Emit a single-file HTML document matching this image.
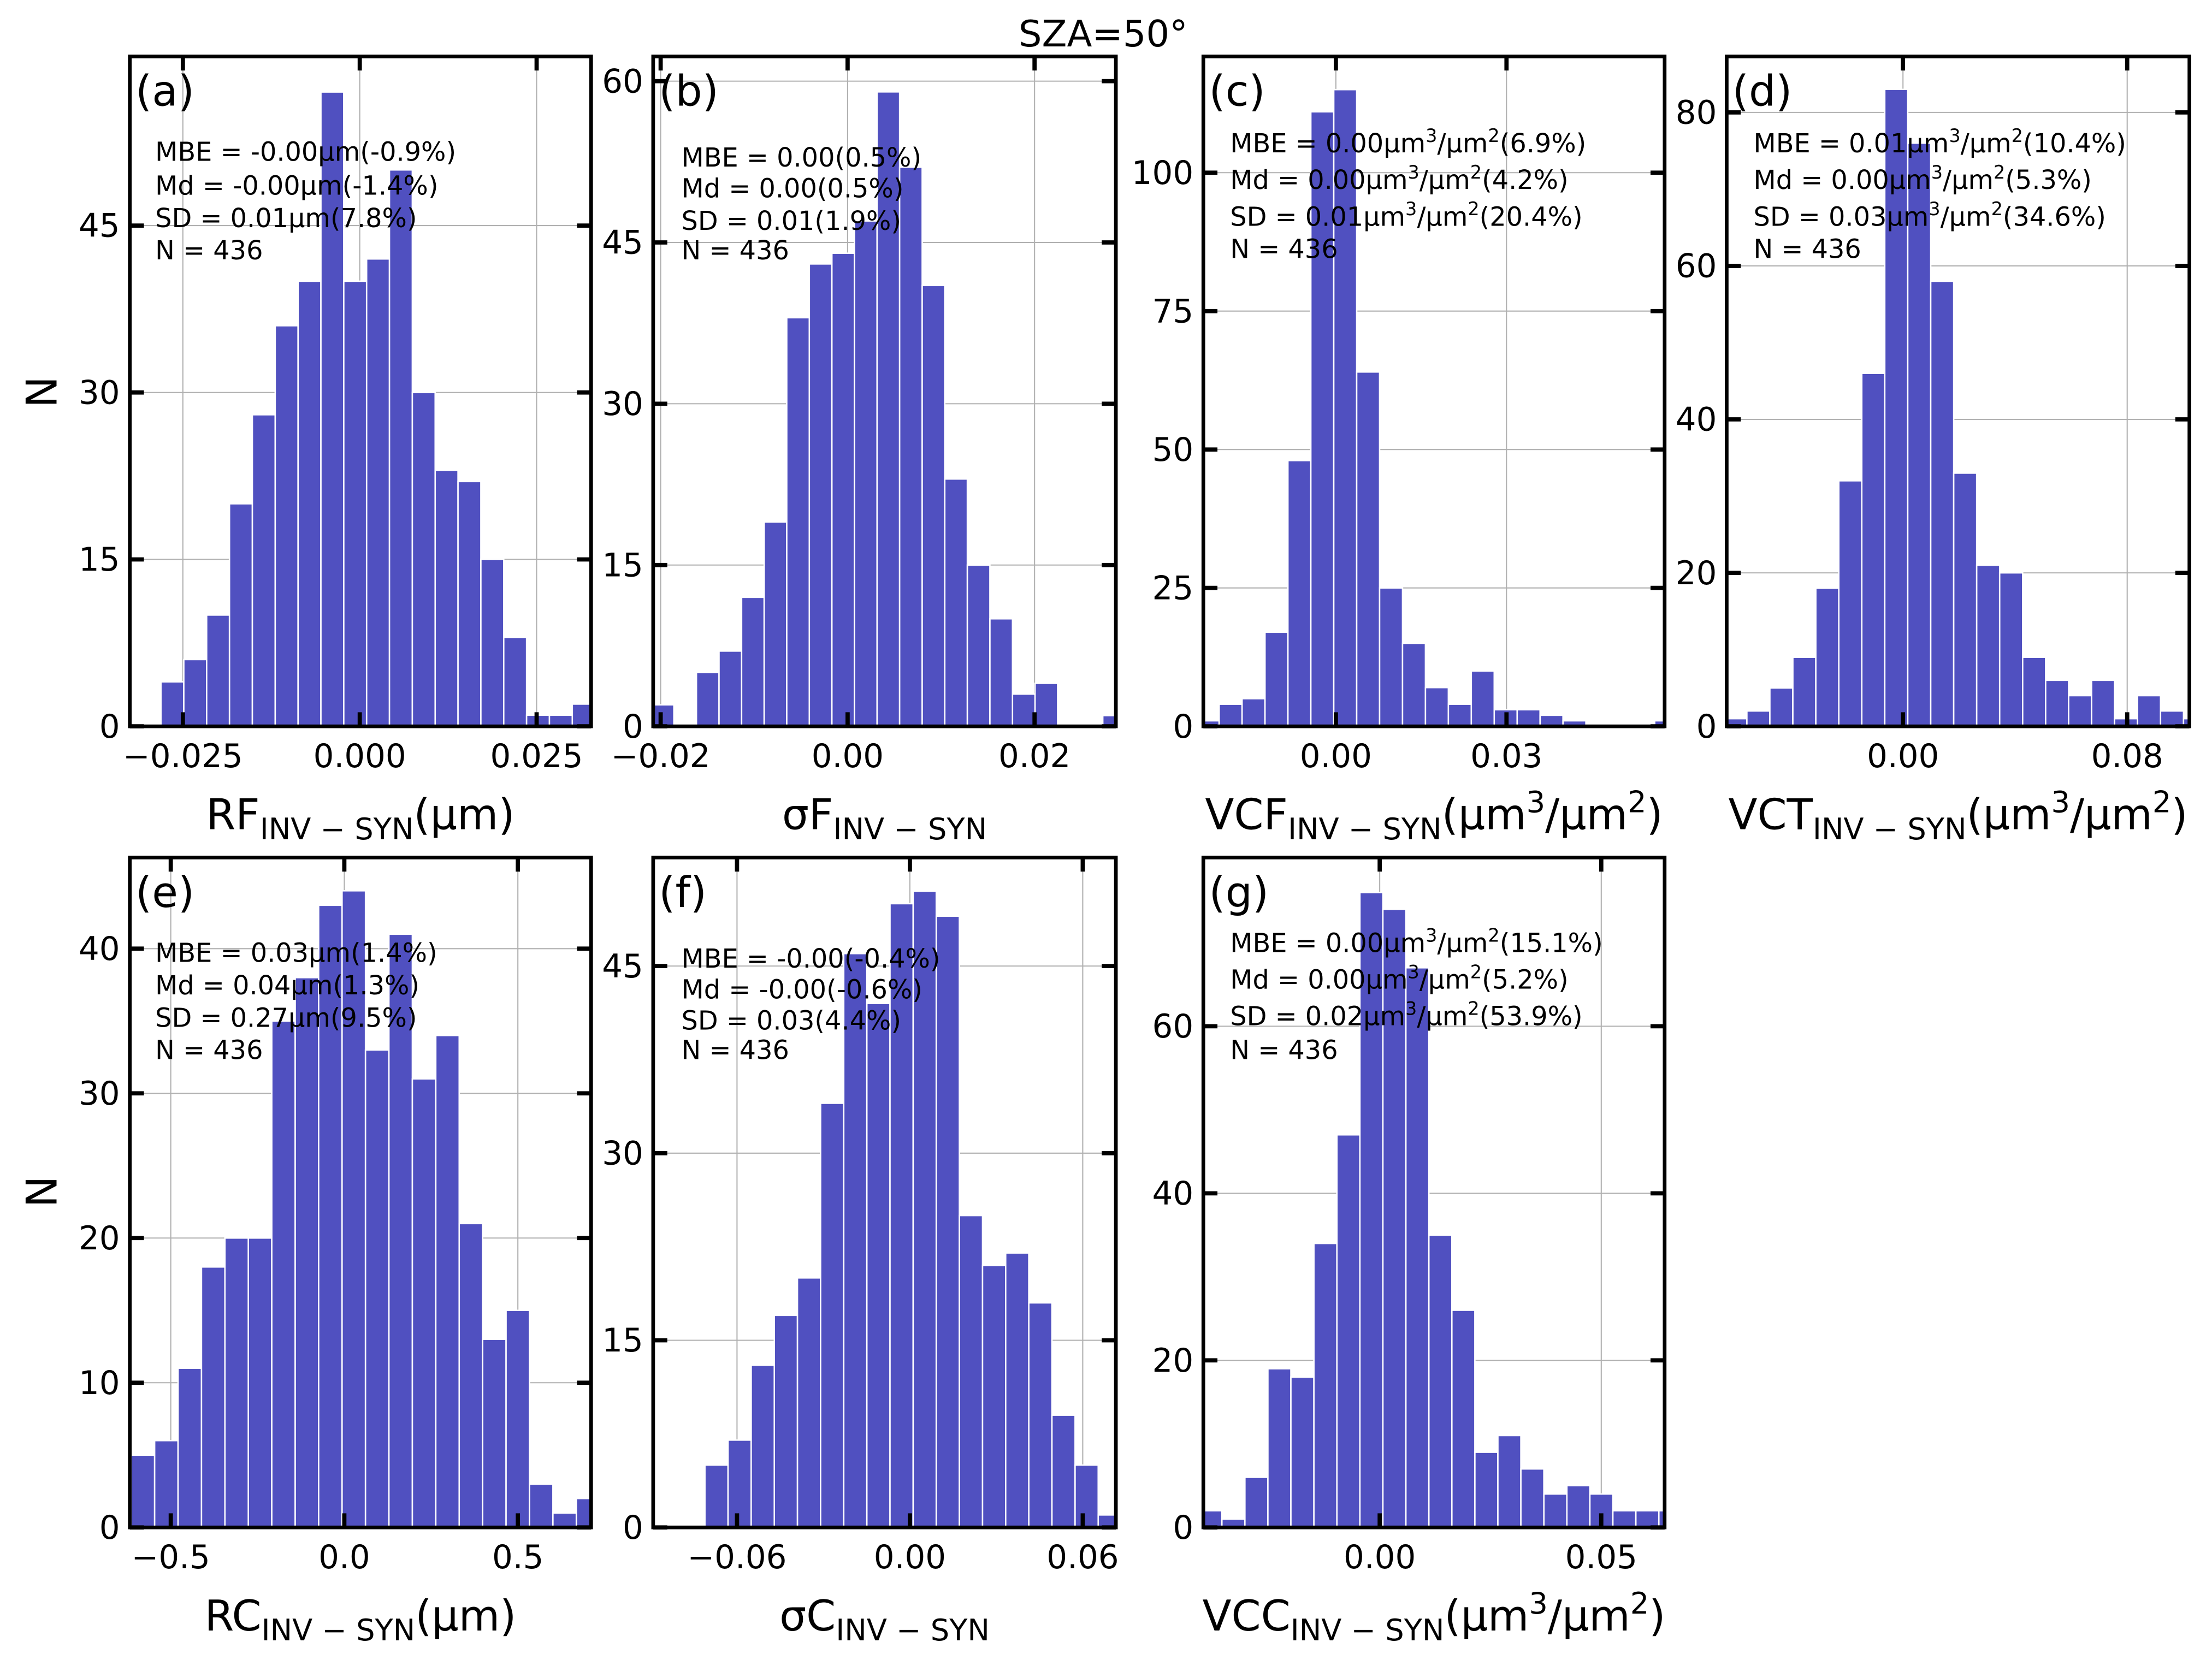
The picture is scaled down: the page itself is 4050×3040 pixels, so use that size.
<!DOCTYPE html>
<html><head><meta charset="utf-8"><style>
html,body{margin:0;padding:0;background:#fff}
svg{display:block}
text{font-family:"DejaVu Sans","Liberation Sans",sans-serif;fill:#000}
</style></head><body>
<svg id="fig" xmlns="http://www.w3.org/2000/svg" width="4050" height="3040" viewBox="0 0 1568 1177">
<text x="782" y="33" font-size="26" text-anchor="middle">SZA=50°</text>
<text transform="translate(40,278) rotate(-90)" font-size="30" text-anchor="middle">N</text>
<text transform="translate(40,845) rotate(-90)" font-size="30" text-anchor="middle">N</text>
</svg>
<script>
// ---- data ----
const countsA=[4,6,10,20,28,36,40,57,40,42,50,30,23,22,15,8,1,1,2];
const countsB=[2,0,5,7,12,19,38,43,44,47,59,52,41,23,15,10,3,4,0,0,1];
const countsC=[1,4,5,17,48,111,115,64,25,15,7,4,10,3,3,2,1,0,0,0,1];
const countsD=[1,2,5,9,18,32,46,83,76,58,33,21,20,9,6,4,6,1,4,2,1];
const countsE=[5,6,11,18,20,20,35,38,43,44,33,41,31,34,21,13,15,3,1,2];
const countsF=[0,0,5,7,13,17,20,34,46,42,50,51,49,25,21,22,18,9,5,1];
const countsG=[2,1,6,19,18,34,47,76,74,67,35,26,9,11,7,4,5,4,2,2,2];
const binStarts=[-0.0281,-0.0210,-0.02455,-0.0639,-0.614,-0.0872,-0.0408];
const binWidths=[0.00323,0.002415,0.00403,0.0082,0.0675,0.00803,0.00519];
const xTicksA=[-0.025,0,0.025], xTickLabelsA=["−0.025","0.000","0.025"];
const xTicksB=[-0.02,0,0.02], xTickLabelsB=["−0.02","0.00","0.02"];
const xTicksC=[0,0.03], xTickLabelsC=["0.00","0.03"];
const xTicksD=[0,0.08], xTickLabelsD=["0.00","0.08"];
const xTicksE=[-0.5,0,0.5], xTickLabelsE=["−0.5","0.0","0.5"];
const xTicksF=[-0.06,0,0.06], xTickLabelsF=["−0.06","0.00","0.06"];
const xTicksG=[0,0.05], xTickLabelsG=["0.00","0.05"];
const yTicksA=[0,15,30,45], yTicksB=[0,15,30,45,60], yTicksC=[0,25,50,75,100], yTicksD=[0,20,40,60,80];
const yTicksE=[0,10,20,30,40], yTicksF=[0,15,30,45], yTicksG=[0,20,40,60];
const xLims=[[-0.0325,0.0327],[-0.0208,0.0287],[-0.0233,0.0578],[-0.0629,0.1022],[-0.618,0.711],[-0.0891,0.0715],[-0.0398,0.0643]];
const yMaxs=[60.2,62.3,121,87.3,46.3,53.7,80.2];
const statsA=["MBE = -0.00μm(-0.9%)","Md = -0.00μm(-1.4%)","SD = 0.01μm(7.8%)","N = 436"];
const statsB=["MBE = 0.00(0.5%)","Md = 0.00(0.5%)","SD = 0.01(1.9%)","N = 436"];
const statsC=["MBE = 0.00μm^3/μm^2(6.9%)","Md = 0.00μm^3/μm^2(4.2%)","SD = 0.01μm^3/μm^2(20.4%)","N = 436"];
const statsD=["MBE = 0.01μm^3/μm^2(10.4%)","Md = 0.00μm^3/μm^2(5.3%)","SD = 0.03μm^3/μm^2(34.6%)","N = 436"];
const statsE=["MBE = 0.03μm(1.4%)","Md = 0.04μm(1.3%)","SD = 0.27μm(9.5%)","N = 436"];
const statsF=["MBE = -0.00(-0.4%)","Md = -0.00(-0.6%)","SD = 0.03(4.4%)","N = 436"];
const statsG=["MBE = 0.00μm^3/μm^2(15.1%)","Md = 0.00μm^3/μm^2(5.2%)","SD = 0.02μm^3/μm^2(53.9%)","N = 436"];

const NS="http://www.w3.org/2000/svg";
const svg=document.getElementById('fig');
function mk(tag,attrs,parent){const e=document.createElementNS(NS,tag);for(const k in attrs)e.setAttribute(k,attrs[k]);(parent||svg).appendChild(e);return e;}

const panels=[
 {id:'a',box:[92,40,419,515],counts:countsA,xt:xTicksA,xl:xTickLabelsA,yt:yTicksA,stats:statsA,sy:[114,138,161,184],lab:['RF','(μm)']},
 {id:'b',box:[463,40,791,515],counts:countsB,xt:xTicksB,xl:xTickLabelsB,yt:yTicksB,stats:statsB,sy:[118,140,163,184],lab:['σF','']},
 {id:'c',box:[853,40,1180,515],counts:countsC,xt:xTicksC,xl:xTickLabelsC,yt:yTicksC,stats:statsC,sy:[108,134,160,183],lab:['VCF','(μm^3/μm^2)']},
 {id:'d',box:[1224,40,1552,515],counts:countsD,xt:xTicksD,xl:xTickLabelsD,yt:yTicksD,stats:statsD,sy:[108,134,160,183],lab:['VCT','(μm^3/μm^2)']},
 {id:'e',box:[92,608,419,1083],counts:countsE,xt:xTicksE,xl:xTickLabelsE,yt:yTicksE,stats:statsE,sy:[682,705,728,751],lab:['RC','(μm)']},
 {id:'f',box:[463,608,791,1083],counts:countsF,xt:xTicksF,xl:xTickLabelsF,yt:yTicksF,stats:statsF,sy:[686,708,730,751],lab:['σC','']},
 {id:'g',box:[853,608,1180,1083],counts:countsG,xt:xTicksG,xl:xTickLabelsG,yt:yTicksG,stats:statsG,sy:[675,701,727,751],lab:['VCC','(μm^3/μm^2)']}
];

function addSupText(t,str,fs){
  const parts=str.split(/\^(\d)/);
  let pending=0;
  parts.forEach((p,i)=>{
    if(!p)return;
    const ts=mk('tspan',{},t);
    if(i%2===1){
      const d=-fs*0.4;
      ts.setAttribute('dy',d+pending);pending=-d;
      ts.setAttribute('font-size',fs*0.7);ts.textContent=p;
    } else {
      if(pending){ts.setAttribute('dy',pending);pending=0;}
      ts.textContent=p;
    }
  });
}

panels.forEach((p,pi)=>{
  const [x0,y0,x1,y1]=p.box;
  const [lo,hi]=xLims[pi];const ymax=yMaxs[pi];
  const X=v=>x0+(v-lo)/(hi-lo)*(x1-x0);
  const Y=v=>y1-v/ymax*(y1-y0);
  const g=mk('g',{});
  
  
  const cp=mk('clipPath',{id:'clip'+p.id},g);
  mk('rect',{x:x0,y:y0,width:x1-x0,height:y1-y0},cp);
  p.xt.forEach(v=>{const l=mk('line',{x1:X(v),x2:X(v),y1:y0,y2:y1,stroke:'#b0b0b0','stroke-width':0.8},g);
    
    });
  p.yt.forEach(v=>{const l=mk('line',{x1:x0,x2:x1,y1:Y(v),y2:Y(v),stroke:'#b0b0b0','stroke-width':0.8},g);
    
    });
  const bg=mk('g',{'clip-path':'url(#clip'+p.id+')'},g);
  p.counts.forEach((c,i)=>{
    const a=binStarts[pi]+i*binWidths[pi],b=a+binWidths[pi];
    if(c<=0)return;
    const r=mk('rect',{x:X(a),y:Y(c),width:X(b)-X(a),height:Y(0)-Y(c),fill:'#5050c0',stroke:'#fff','stroke-width':1},bg);
    
    
  });
  const fr=mk('rect',{x:x0,y:y0,width:x1-x0,height:y1-y0,fill:'none',stroke:'#000','stroke-width':2.6},g);
  
  
  p.xt.forEach((v,i)=>{
    mk('line',{x1:X(v),x2:X(v),y1:y1,y2:y1-10,stroke:'#000','stroke-width':3},g);
    mk('line',{x1:X(v),x2:X(v),y1:y0,y2:y0+10,stroke:'#000','stroke-width':3},g);
    const t=mk('text',{x:X(v),y:y1+29,'font-size':23,'text-anchor':'middle'},g);
    
    
    t.textContent=p.xl[i];
  });
  p.yt.forEach(v=>{
    mk('line',{x1:x0,x2:x0+10,y1:Y(v),y2:Y(v),stroke:'#000','stroke-width':3},g);
    mk('line',{x1:x1,x2:x1-10,y1:Y(v),y2:Y(v),stroke:'#000','stroke-width':3},g);
    const t=mk('text',{x:x0-7,y:Y(v)+8,'font-size':23,'text-anchor':'end'},g);
    
    
    t.textContent=String(v);
  });
  const pl=mk('text',{x:x0+4,y:y0+35,'font-size':30},g);
  
  
  pl.textContent='('+p.id+')';
  p.stats.forEach((s,i)=>{
    const t=mk('text',{x:x0+(p.id==='c'||p.id==='d'||p.id==='g'?19:(p.id==='b'||p.id==='f'?20:18)),y:p.sy[i],'font-size':18.5},g);
    
    
    addSupText(t,s,18.5);
  });
  const xl=mk('text',{x:(x0+x1)/2,y:y1+73,'font-size':30,'text-anchor':'middle'},g);
  
  
  const t1=mk('tspan',{},xl);t1.textContent=p.lab[0];
  const t2=mk('tspan',{dy:7,'font-size':21},xl);t2.textContent='INV − SYN';
  const t3=mk('tspan',{dy:-7},xl);
  addSupText(t3,p.lab[1]||'',30);
});
</script>
</body></html>
